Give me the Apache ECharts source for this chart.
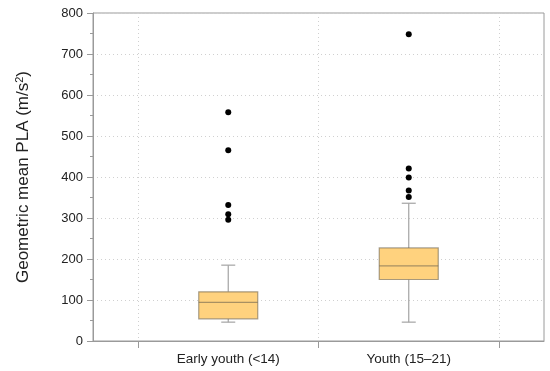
<!DOCTYPE html>
<html>
<head>
<meta charset="utf-8">
<script src="https://cdn.jsdelivr.net/npm/echarts@6/dist/echarts.min.js"></script>
<style>html,body{margin:0;padding:0;background:#fff}#c{width:550px;height:371px}</style>
</head>
<body>
<div id="c"></div>
<script>
const categories = ['Early youth (<14)', 'Youth (15\u201321)'];
// [lower whisker, Q1, median, Q3, upper whisker]
const boxValues = [
  [46, 54, 94, 120, 185],
  [46, 150, 183, 227, 336]
];
const outliersEarly = [558, 465, 332, 309, 296];
const outliersYouth = [748, 421, 399, 367, 351];
const yTicks = [0, 100, 200, 300, 400, 500, 600, 700, 800];

const outlierData = [];
outliersEarly.forEach(v => outlierData.push([0, v]));
outliersYouth.forEach(v => outlierData.push([1, v]));
const boxData = boxValues.map((b, i) => [i].concat(b));

const font = 'Liberation Sans, Arial, Helvetica, sans-serif';
const BOX_W = 59, CAP_W = 14;
const whiskerStyle = {stroke: '#a3a3a3', lineWidth: 1.2};
const boxBorder = 'rgba(110,100,80,0.6)';

function renderBox(params, api) {
  const x = api.coord([api.value(0), 0])[0];
  const yLo = api.coord([api.value(0), api.value(1)])[1];
  const yQ1 = api.coord([api.value(0), api.value(2)])[1];
  const yMed = api.coord([api.value(0), api.value(3)])[1];
  const yQ3 = api.coord([api.value(0), api.value(4)])[1];
  const yHi = api.coord([api.value(0), api.value(5)])[1];
  return {
    type: 'group',
    children: [
      {type: 'line', shape: {x1: x, y1: yHi, x2: x, y2: yQ3}, style: whiskerStyle},
      {type: 'line', shape: {x1: x, y1: yQ1, x2: x, y2: yLo}, style: whiskerStyle},
      {type: 'line', shape: {x1: x - CAP_W / 2, y1: yHi, x2: x + CAP_W / 2, y2: yHi}, style: whiskerStyle},
      {type: 'line', shape: {x1: x - CAP_W / 2, y1: yLo, x2: x + CAP_W / 2, y2: yLo}, style: whiskerStyle},
      {type: 'rect', shape: {x: x - BOX_W / 2, y: yQ3, width: BOX_W, height: yQ1 - yQ3},
       style: {fill: '#FFD27E', stroke: boxBorder, lineWidth: 1.2}},
      {type: 'line', shape: {x1: x - BOX_W / 2, y1: yMed, x2: x + BOX_W / 2, y2: yMed},
       style: {stroke: boxBorder, lineWidth: 1.3}}
    ]
  };
}

const chart = echarts.init(document.getElementById('c'), null, {renderer: 'canvas'});
chart.setOption({
  animation: false,
  backgroundColor: '#fff',
  grid: [
    {left: 93, right: 6, top: 13, bottom: 30, show: true, borderColor: '#9a9a9a', borderWidth: 1, backgroundColor: 'transparent'},
    {left: 138, right: 51, top: 13, bottom: 30}
  ],
  xAxis: [
    {gridIndex: 0, type: 'value', min: 0, max: 10, axisLine: {show: true, lineStyle: {color: '#9a9a9a'}},
     axisTick: {show: false}, axisLabel: {show: false}, splitLine: {show: false}},
    {gridIndex: 1, type: 'category', data: categories, boundaryGap: true,
     axisLine: {show: false}, axisTick: {show: true, length: 7, lineStyle: {color: '#9a9a9a'}},
     axisLabel: {fontFamily: font, fontSize: 13.5, color: '#222', margin: 11},
     splitLine: {show: true, lineStyle: {color: '#d0d0d0', type: [1, 3]}}}
  ],
  yAxis: [
    {gridIndex: 0, type: 'value', min: 0, max: 800, interval: 100,
     axisLine: {show: true, lineStyle: {color: '#9a9a9a'}},
     axisTick: {show: true, length: 6, lineStyle: {color: '#9a9a9a'}},
     minorTick: {show: true, splitNumber: 2, length: 3, lineStyle: {color: '#9a9a9a'}},
     axisLabel: {fontFamily: font, fontSize: 13, color: '#222', margin: 10,
       formatter: v => yTicks.indexOf(v) >= 0 ? String(v) : ''},
     splitLine: {show: true, lineStyle: {color: '#d0d0d0', type: [1, 3]}},
     name: 'Geometric mean PLA (m/s{sup|2})', nameLocation: 'middle', nameGap: 60,
     nameTextStyle: {fontFamily: font, fontSize: 17, color: '#222',
       rich: {sup: {fontFamily: font, fontSize: 11, verticalAlign: 'top', padding: [0, 0, 8, 0], color: '#222'}}}},
    {gridIndex: 1, type: 'value', min: 0, max: 800, show: false, splitLine: {show: false}}
  ],
  series: [
    {type: 'custom', xAxisIndex: 1, yAxisIndex: 1, data: boxData, renderItem: renderBox,
     encode: {x: 0, y: [1, 2, 3, 4, 5]}},
    {type: 'scatter', xAxisIndex: 1, yAxisIndex: 1, data: outlierData, symbolSize: 6,
     itemStyle: {color: '#000', opacity: 1}}
  ]
});
</script>
</body>
</html>
